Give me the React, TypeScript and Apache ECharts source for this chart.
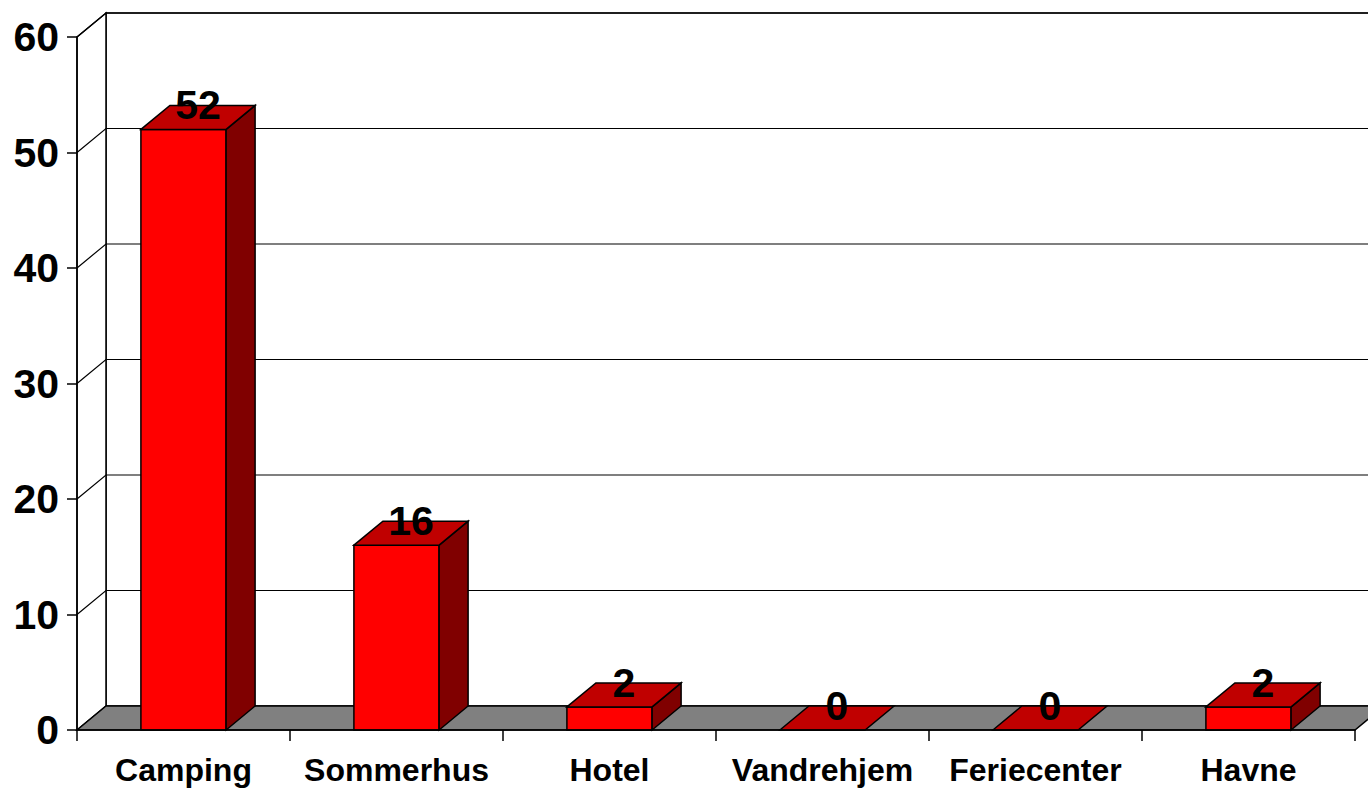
import React, { useEffect, useRef } from "react";
import * as echarts from "echarts";

const categories = ["Camping", "Sommerhus", "Hotel", "Vandrehjem", "Feriecenter", "Havne"];
const values = [52, 16, 2, 0, 0, 2];
const yMin = 0;
const yMax = 60;
const yStep = 10;
const gridValues = [10, 20, 30, 40, 50, 60];

const DX = 29;
const DY = -24;
const FONT = "'Liberation Sans', Arial, sans-serif";

export default function App() {
  const ref = useRef<HTMLDivElement>(null);
  useEffect(() => {
    if (!ref.current) return;
    const chart = echarts.init(ref.current, undefined, { renderer: "svg" });
    const stroke = { stroke: "#000", lineWidth: 1.5 };
    const option: any = {
      animation: false,
      backgroundColor: "#fff",
      grid: { left: 77, top: 37, width: 1278, height: 693, containLabel: false },
      xAxis: {
        type: "category",
        data: categories,
        boundaryGap: true,
        axisLine: { show: true, lineStyle: { color: "#000", width: 1.5 } },
        axisTick: { show: true, interval: 0, length: 11, lineStyle: { color: "#000", width: 1.5 } },
        axisLabel: {
          interval: 0,
          hideOverlap: false,
          margin: 24,
          color: "#000",
          fontSize: 32,
          fontWeight: "bold",
          fontFamily: FONT,
        },
        splitLine: { show: false },
        z: 10,
      },
      yAxis: {
        type: "value",
        min: yMin,
        max: yMax,
        interval: yStep,
        axisLine: { show: true, lineStyle: { color: "#000", width: 1.5 } },
        axisTick: { show: true, length: 10, lineStyle: { color: "#000", width: 1.5 } },
        axisLabel: {
          margin: 18,
          color: "#000",
          fontSize: 41,
          fontWeight: "bold",
          fontFamily: FONT,
        },
        splitLine: { show: false },
        z: 10,
      },
      series: [
        {
          type: "custom",
          z: 1,
          clip: false,
          silent: true,
          data: [[0, yMax]],
          renderItem: (params: any, api: any) => {
            const cs = params.coordSys;
            const left = cs.x;
            const right = cs.x + cs.width;
            const yTop = api.coord([0, yMax])[1];
            const yBot = api.coord([0, yMin])[1];
            return {
              type: "group",
              children: [
                {
                  type: "rect",
                  shape: { x: left + DX, y: yTop + DY, width: right - left, height: yBot - yTop },
                  style: { fill: "#fff", ...stroke },
                },
                {
                  type: "polygon",
                  shape: {
                    points: [
                      [left, yTop],
                      [left + DX, yTop + DY],
                      [left + DX, yBot + DY],
                      [left, yBot],
                    ],
                  },
                  style: { fill: "#fff", ...stroke },
                },
                {
                  type: "polygon",
                  shape: {
                    points: [
                      [left, yBot],
                      [left + DX, yBot + DY],
                      [right + DX, yBot + DY],
                      [right, yBot],
                    ],
                  },
                  style: { fill: "#808080", ...stroke },
                },
              ],
            };
          },
        },
        {
          type: "custom",
          z: 2,
          clip: false,
          silent: true,
          data: gridValues.map((v) => [0, v]),
          renderItem: (params: any, api: any) => {
            const cs = params.coordSys;
            const left = cs.x;
            const right = cs.x + cs.width;
            const y = api.coord([0, api.value(1)])[1];
            return {
              type: "polyline",
              shape: {
                points: [
                  [left, y],
                  [left + DX, y + DY],
                  [right + DX, y + DY],
                ],
              },
              style: { fill: "none", stroke: "#000", lineWidth: 1.2 },
            };
          },
        },
        {
          type: "custom",
          z: 3,
          clip: false,
          silent: true,
          data: values.map((v, i) => [i, v]),
          renderItem: (params: any, api: any) => {
            const i = api.value(0);
            const v = api.value(1);
            const top = api.coord([i, v]);
            const bot = api.coord([i, 0]);
            const bw = api.size([1, 0])[0];
            const w = bw * 0.4;
            const x0 = top[0] - w / 2;
            const x1 = top[0] + w / 2;
            const yt = top[1];
            const yb = bot[1];
            const children: any[] = [];
            if (yb - yt > 0.5) {
              children.push({
                type: "rect",
                shape: { x: x0, y: yt, width: w, height: yb - yt },
                style: { fill: "#FF0000", ...stroke },
              });
              children.push({
                type: "polygon",
                shape: {
                  points: [
                    [x1, yt],
                    [x1 + DX, yt + DY],
                    [x1 + DX, yb + DY],
                    [x1, yb],
                  ],
                },
                style: { fill: "#800000", ...stroke },
              });
            }
            children.push({
              type: "polygon",
              shape: {
                points: [
                  [x0, yt],
                  [x0 + DX, yt + DY],
                  [x1 + DX, yt + DY],
                  [x1, yt],
                ],
              },
              style: { fill: "#C00000", ...stroke },
            });
            children.push({
              type: "text",
              x: top[0] + DX / 2,
              y: yt + DY,
              style: {
                text: String(v),
                fill: "#000",
                fontSize: 41,
                fontWeight: "bold",
                fontFamily: FONT,
                align: "center",
                verticalAlign: "middle",
              },
            });
            return { type: "group", children };
          },
        },
      ],
    };
    chart.setOption(option);
    return () => chart.dispose();
  }, []);
  return (
    <div
      ref={ref}
      style={{ position: "fixed", left: 0, top: 0, width: 1368, height: 791 }}
    />
  );
}
